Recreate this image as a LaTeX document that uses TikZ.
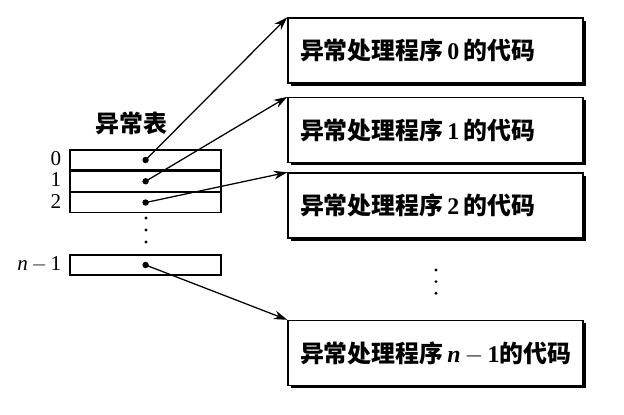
\documentclass[tikz,border=0pt]{standalone}
\usepackage{fontspec}
\setmainfont{Liberation Serif}
\newfontfamily\cjk{Noto Sans CJK SC}
\usetikzlibrary{arrows.meta,positioning,shadows}
\tikzset{
  tabrow/.style={draw, line width=0.9pt, minimum width=3.775cm, minimum height=0.5cm, inner sep=0pt},
  rowlab/.style={anchor=east, font=\fontsize{15}{15}\selectfont, inner sep=0pt,
    text height=0.34cm, text depth=0.06cm},
  handler/.style={draw, line width=1pt, fill=white, text width=6.775cm, inner xsep=0.3cm,
    minimum height=1.625cm, align=left, font=\fontsize{17}{17}\selectfont,
    drop shadow={shadow xshift=0.07cm, shadow yshift=-0.07cm, fill=black, opacity=1}},
  ptr/.style={-{Stealth[length=0.34cm, width=0.22cm]}, line width=0.9pt},
  pdot/.style={circle, fill, inner sep=0pt, minimum size=0.16cm},
  vdot/.style={circle, fill, inner sep=0pt, minimum size=0.08cm},
}
\newcommand{\hname}[1]{{\cjk\bfseries 异常处理程序}\,#1{\cjk\bfseries 的代码}}
\newcommand{\nmone}{\textit{n}\,$-$\,1}

\begin{document}
\begin{tikzpicture}
  \useasboundingbox (0,0) rectangle (15.6,-10.35);
  % exception table
  \node[font=\cjk\bfseries\fontsize{17}{17}\selectfont] (title) at (3.28,-3.08) {异常表};
  \node[tabrow] (r0) at (3.64,-4.0) {};
  \node[tabrow, below=0pt of r0] (r1) {};
  \node[tabrow, below=0pt of r1] (r2) {};
  \node[tabrow] (rn) at (3.64,-6.625) {};
  \foreach \r/\t in {r0/0, r1/1, r2/2, rn/\nmone}
    \node[rowlab] (l\r) at ([xshift=-0.2cm]\r.west) {\t};
  \foreach \y in {-5.45,-5.75,-6.05}
    \node[vdot] at (3.65,\y) {};
  % handlers
  \node[handler] (h0) at (10.8875,-1.2625) {\hname{\textbf{0}\,}};
  \node[handler] (h1) at (10.8875,-3.25) {\hname{\textbf{1}\,}};
  \node[handler] (h2) at (10.8875,-5.1375) {\hname{\textbf{2}\,}};
  \node[handler] (hn) at (10.8875,-8.825) {\hname{\textbf{\nmone}}};
  \foreach \y in {-6.75,-7.04,-7.33}
    \node[vdot] at (10.9,\y) {};
  % pointers
  \foreach \r/\h in {r0/h0, r1/h1, r2/h2, rn/hn} {
    \node[pdot] (d\r) at (\r.center) {};
    \draw[ptr] (d\r.center) -- (\h.north west);
  }
\end{tikzpicture}
\end{document}
